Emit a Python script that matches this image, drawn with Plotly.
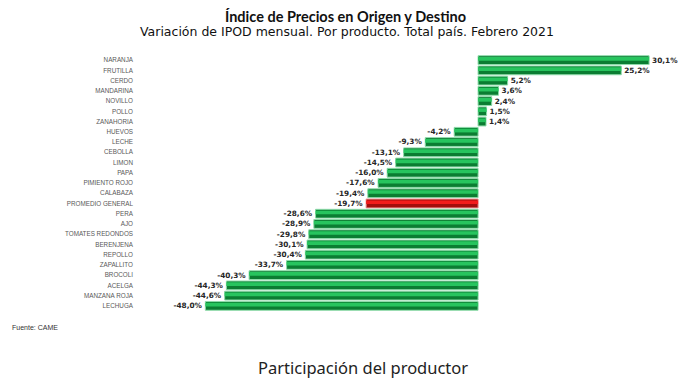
import plotly.graph_objects as go

productos = ["NARANJA", "FRUTILLA", "CERDO", "MANDARINA", "NOVILLO", "POLLO", "ZANAHORIA",
             "HUEVOS", "LECHE", "CEBOLLA", "LIMON", "PAPA", "PIMIENTO ROJO", "CALABAZA",
             "PROMEDIO GENERAL", "PERA", "AJO", "TOMATES REDONDOS", "BERENJENA", "REPOLLO",
             "ZAPALLITO", "BROCOLI", "ACELGA", "MANZANA ROJA", "LECHUGA"]
variacion = [30.1, 25.2, 5.2, 3.6, 2.4, 1.5, 1.4, -4.2, -9.3, -13.1, -14.5, -16.0, -17.6,
             -19.4, -19.7, -28.6, -28.9, -29.8, -30.1, -30.4, -33.7, -40.3, -44.3, -44.6, -48.0]
destacado = "PROMEDIO GENERAL"

etiquetas = [f"{v:.1f}".replace(".", ",") + "%" for v in variacion]
base_col = ["#a30d0d" if p == destacado else "#0b7d32" for p in productos]
brillo_col = ["#f21c1c" if p == destacado else "#27c45e" for p in productos]
borde_col = ["#e88a8a" if p == destacado else "#8fdcab" for p in productos]

# page body has an 8px margin: figure is sized/placed to compensate
OFF = 8
W, H = 693 - OFF, 383 - OFF
ML, MR, MT, MB = 132, 3, 47, 72

fig = go.Figure()
fig.add_trace(go.Bar(
    y=productos, x=variacion, orientation="h",
    width=0.86, offset=-0.43,
    marker=dict(color=base_col, line=dict(color=borde_col, width=1)),
    text=etiquetas, textposition="outside", cliponaxis=False,
    textfont=dict(family="DejaVu Sans", size=7.5, color="#262626", weight="bold"),
    hoverinfo="x+y", showlegend=False,
))
fig.add_trace(go.Bar(
    y=productos, x=variacion, orientation="h",
    width=0.36, offset=-0.3,
    marker=dict(color=brillo_col, line=dict(width=0)),
    hoverinfo="skip", showlegend=False,
))

fig.update_layout(
    width=W, height=H,
    margin=dict(l=ML, r=MR, t=MT, b=MB),
    barmode="overlay",
    paper_bgcolor="white", plot_bgcolor="white",
    xaxis=dict(range=[-59.5, 37.3], visible=False, zeroline=False, showgrid=False, automargin=False),
    yaxis=dict(autorange="reversed", showgrid=False, zeroline=False, showline=False, automargin=False,
               ticks="", ticklabelstandoff=6,
               tickfont=dict(family="Liberation Sans Narrow, Liberation Sans", size=6.3, color="#595959")),
)

ann = [
    dict(text="<b>Índice de Precios en Origen y Destino</b>", x=345, y=15.5,
         font=dict(family="Lato", size=14.5, color="#111111")),
    dict(text="Variación de IPOD mensual. Por producto. Total país. Febrero 2021", x=346.5, y=31,
         font=dict(family="DejaVu Sans", size=12.5, color="#111111")),
    dict(text="Fuente: CAME", x=10, y=327, xanchor="left",
         font=dict(family="Liberation Sans Narrow, Liberation Sans", size=7, color="#333333")),
    dict(text="Participación del productor", x=363, y=367,
         font=dict(family="Noto Sans", size=16.5, color="#222222")),
]
pw, ph = W - ML - MR, H - MT - MB
for a in ann:
    fig.add_annotation(
        text=a["text"], xref="paper", yref="paper",
        x=(a["x"] - OFF - ML) / pw, y=(H - MB - (a["y"] - OFF)) / ph,
        xanchor=a.get("xanchor", "center"), yanchor="middle",
        showarrow=False, font=a["font"],
    )

fig.write_html("out.html")
